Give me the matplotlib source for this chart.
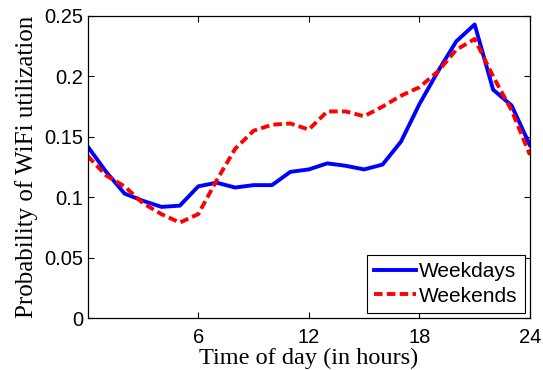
import matplotlib
matplotlib.use("Agg")
import matplotlib.pyplot as plt

# hourly probability of wifi use
hours = list(range(25))
weekdays = [0.142, 0.121, 0.103, 0.097, 0.092, 0.093, 0.109, 0.112, 0.108, 0.110,
            0.110, 0.121, 0.123, 0.128, 0.126, 0.123, 0.127, 0.146, 0.177, 0.204,
            0.229, 0.243, 0.189, 0.176, 0.143]
weekends = [0.134, 0.118, 0.109, 0.095, 0.086, 0.079, 0.086, 0.114, 0.140, 0.155,
            0.160, 0.161, 0.156, 0.171, 0.171, 0.167, 0.175, 0.184, 0.191, 0.204,
            0.222, 0.231, 0.200, 0.172, 0.135]
xticks = [6, 12, 18, 24]
yticks = [0, 0.05, 0.1, 0.15, 0.2, 0.25]
ytick_labels = ["0", "0.05", "0.1", "0.15", "0.2", "0.25"]

fig = plt.figure(figsize=(5.43, 3.70), dpi=100)
ax = fig.add_axes([0.1615, 0.1405, 0.8145, 0.8163])

ax.plot(hours, weekdays, color="#0000ff", lw=2.8, label="Weekdays")
ax.plot(hours, weekends, color="#ff0000", lw=2.8, dashes=(2.2, 1.1), label="Weekends")

ax.set_xlim(0, 24)
ax.set_ylim(0, 0.25)
ax.set_xticks(xticks)
ax.set_yticks(yticks)
ax.set_xticklabels([str(t) for t in xticks], family="Liberation Sans", fontsize=14.5)
ax.set_yticklabels(ytick_labels, family="Liberation Sans", fontsize=14.5)
ax.tick_params(direction="in", top=True, right=True, length=4, width=0.8)
ax.tick_params(axis="x", pad=7.5)
ax.tick_params(axis="y", pad=3)
for s in ax.spines.values():
    s.set_linewidth(0.9)

ax.set_xlabel("Time of day (in hours)", family="Liberation Serif", fontsize=17.5, labelpad=0)
ax.set_ylabel("Probability of WiFi utilization", family="Liberation Serif", fontsize=18, labelpad=5)

leg = ax.legend(loc="lower right", prop={"family": "Liberation Sans", "size": 15},
                fancybox=False, framealpha=1, edgecolor="black", handlelength=2.0,
                borderaxespad=0.25, handletextpad=0.15, labelspacing=0.25, borderpad=0.35)
leg.get_frame().set_linewidth(0.8)

fig.savefig("out.png", dpi=100)
